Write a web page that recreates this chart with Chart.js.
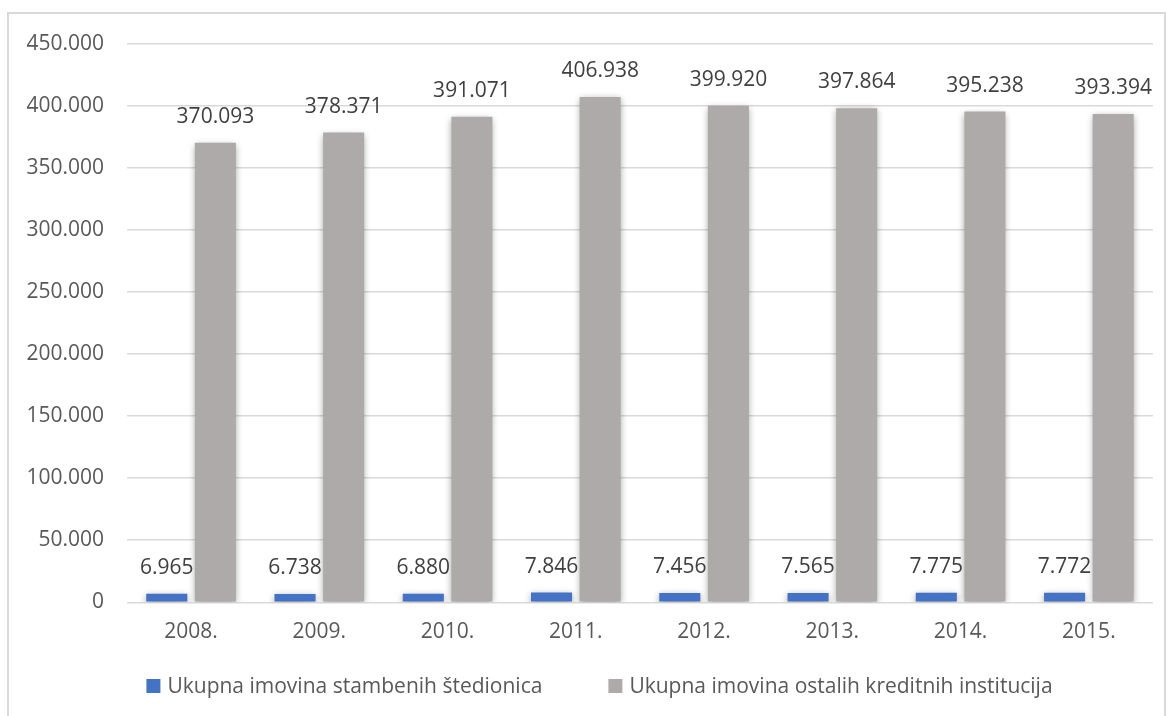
<!DOCTYPE html>
<html>
<head>
<meta charset="utf-8">
<script src="https://cdn.jsdelivr.net/npm/chart.js@4.4.1/dist/chart.umd.min.js"></script>
<style>
  html, body { margin: 0; padding: 0; background: #fff; overflow: hidden; }
  #frame {
    position: absolute; left: 7px; top: 12px; width: 1159px; height: 720px;
    border: 2px solid #d9d9d9; box-sizing: border-box;
  }
  #wrap { position: absolute; left: 0; top: -6px; width: 1155px; height: 710px; }
</style>
</head>
<body>
<div id="frame"><div id="wrap"><canvas id="c"></canvas></div></div>
<script>
(function () {
  'use strict';

  const years = ['2008.', '2009.', '2010.', '2011.', '2012.', '2013.', '2014.', '2015.'];
  const stambene = [6965, 6738, 6880, 7846, 7456, 7565, 7775, 7772];
  const ostale = [370093, 378371, 391071, 406938, 399920, 397864, 395238, 393394];
  const yTicks = [0, 50000, 100000, 150000, 200000, 250000, 300000, 350000, 400000, 450000];

  const FONT = '"Open Sans", "Noto Sans", sans-serif';

  // 1234567 -> 1.234.567
  function fmt(v) {
    return String(Math.round(v)).replace(/\B(?=(\d{3})+(?!\d))/g, '.');
  }

  const shadowPlugin = {
    id: 'barShadow',
    beforeDatasetsDraw(chart) {
      const ctx = chart.ctx;
      ctx.save();
      ctx.shadowColor = 'rgba(0,0,0,0.38)';
      ctx.shadowBlur = 7;
      ctx.shadowOffsetY = 2;
    },
    afterDatasetsDraw(chart) {
      chart.ctx.restore();
    },
  };

  const labelPlugin = {
    id: 'valueLabels',
    afterDatasetsDraw(chart) {
      const ctx = chart.ctx;
      ctx.save();
      ctx.font = '21px ' + FONT;
      ctx.fillStyle = '#404040';
      ctx.textAlign = 'center';
      ctx.textBaseline = 'middle';
      chart.data.datasets.forEach((ds, i) => {
        chart.getDatasetMeta(i).data.forEach((bar, j) => {
          ctx.fillText(fmt(ds.data[j]), bar.x, bar.y - 26);
        });
      });
      ctx.restore();
    },
  };

  // legend row like the Excel one: wide gap between the two entries
  const legendPlugin = {
    id: 'legendRow',
    afterDraw(chart) {
      const ctx = chart.ctx;
      const box = 14, textGap = 7, itemGap = 66;
      ctx.save();
      ctx.font = '21px ' + FONT;
      ctx.textBaseline = 'middle';
      const items = chart.data.datasets.map((ds) => ({
        text: ds.label, color: ds.backgroundColor, w: ctx.measureText(ds.label).width,
      }));
      const total = items.reduce((s, it) => s + box + textGap + it.w, 0) + itemGap * (items.length - 1);
      let x = chart.width / 2 + 13 - total / 2;
      const y = chart.height - 32;
      items.forEach((it) => {
        ctx.fillStyle = it.color;
        ctx.fillRect(x, y - box / 2, box, box);
        ctx.fillStyle = '#595959';
        ctx.fillText(it.text, x + box + textGap, y + 1);
        x += box + textGap + it.w + itemGap;
      });
      ctx.restore();
    },
  };

  new Chart(document.getElementById('c'), {
    type: 'bar',
    data: {
      labels: years,
      datasets: [
        {
          label: 'Ukupna imovina stambenih štedionica',
          data: stambene,
          backgroundColor: '#4472c4',
          categoryPercentage: 0.758,
          barPercentage: 0.845,
        },
        {
          label: 'Ukupna imovina ostalih kreditnih institucija',
          data: ostale,
          backgroundColor: '#aeaaaa',
          categoryPercentage: 0.758,
          barPercentage: 0.845,
        },
      ],
    },
    options: {
      responsive: true,
      maintainAspectRatio: false,
      animation: false,
      layout: { padding: { left: -5.6, right: 11, top: 24.4, bottom: 56.5 } },
      plugins: {
        legend: { display: false },
        tooltip: { enabled: false },
      },
      scales: {
        x: {
          grid: { display: false, drawTicks: false },
          border: { display: false },
          ticks: { font: { family: FONT, size: 21 }, color: '#595959', padding: 17 },
        },
        y: {
          min: 0,
          max: 450000,
          afterBuildTicks: (axis) => { axis.ticks = yTicks.map((v) => ({ value: v })); },
          grid: { color: '#d9d9d9', lineWidth: 1.5, drawTicks: false },
          border: { display: false },
          ticks: { font: { family: FONT, size: 21 }, color: '#595959', padding: 23, callback: (v) => fmt(v) },
        },
      },
    },
    plugins: [shadowPlugin, labelPlugin, legendPlugin],
  });
})();
</script>
</body>
</html>
